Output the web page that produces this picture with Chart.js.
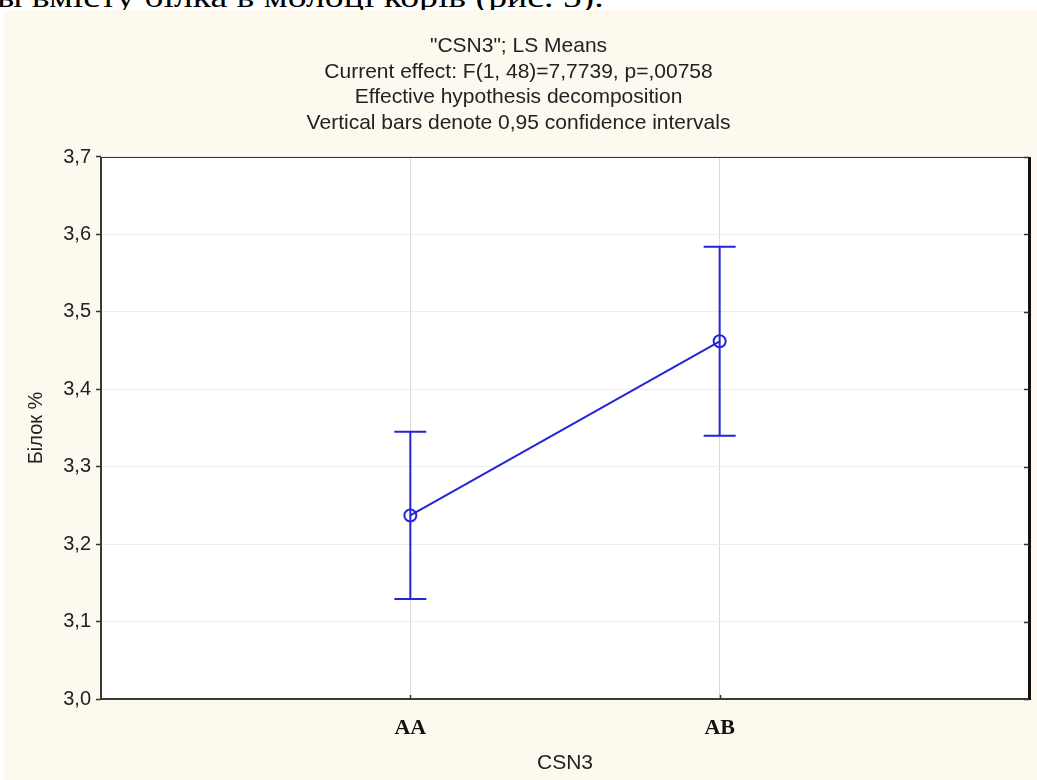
<!DOCTYPE html>
<html><head><meta charset="utf-8">
<script src="https://cdn.jsdelivr.net/npm/chart.js@4"></script>
<style>
html,body{margin:0;padding:0;background:#fff;width:1037px;height:780px;overflow:hidden;position:relative}
#cap{position:absolute;left:-3px;top:-17px;font-family:"Liberation Serif","Times New Roman",serif;font-size:29px;line-height:29px;color:#000;white-space:nowrap;transform:scaleX(1.3);transform-origin:0 0}
#panel{position:absolute;left:4px;top:10px;width:1033px;height:770px;background:#fdf9ee}
canvas{display:block}
</style></head><body>
<div id="cap">ы вмісту білка в молоці корів (рис. 5).</div>
<div id="panel"><canvas id="c" width="1033" height="770"></canvas></div>
<script>
const categories = ['AA', 'AB'];
const means = [3.237, 3.462];
const lowerCI = [3.129, 3.340];
const upperCI = [3.345, 3.584];
const yTickValues = [3.0, 3.1, 3.2, 3.3, 3.4, 3.5, 3.6, 3.7];
const titleLines = [
  '"CSN3"; LS Means',
  'Current effect: F(1, 48)=7,7739, p=,00758',
  'Effective hypothesis decomposition',
  'Vertical bars denote 0,95 confidence intervals'
];
const xTitle = 'CSN3';
const yTitle = 'Білок %';

const BLUE = '#2424d8';
const SANS = '"Liberation Sans", Arial, sans-serif';

const plotBg = {
  id: 'plotBg',
  beforeDraw(chart) {
    const {ctx, chartArea: a} = chart;
    ctx.save();
    ctx.fillStyle = '#ffffff';
    ctx.fillRect(a.left, a.top, a.right - a.left, a.bottom - a.top);
    ctx.restore();
  }
};

const errorBars = {
  id: 'errorBars',
  afterDatasetsDraw(chart) {
    const {ctx, scales: {x, y}} = chart;
    ctx.save();
    ctx.strokeStyle = BLUE;
    ctx.lineWidth = 2;
    categories.forEach((c, i) => {
      const px = x.getPixelForValue(i + 1);
      const top = y.getPixelForValue(upperCI[i]);
      const bot = y.getPixelForValue(lowerCI[i]);
      ctx.beginPath();
      ctx.moveTo(px, top); ctx.lineTo(px, bot);
      ctx.moveTo(px - 16, top); ctx.lineTo(px + 16, top);
      ctx.moveTo(px - 16, bot); ctx.lineTo(px + 16, bot);
      ctx.stroke();
    });
    ctx.restore();
  }
};

const frame = {
  id: 'frame',
  afterDraw(chart) {
    const {ctx, chartArea: a, scales: {x, y}} = chart;
    ctx.save();
    ctx.strokeStyle = '#3a3a3a';
    ctx.lineWidth = 1;
    ctx.strokeRect(a.left + 0.5, a.top + 0.5, a.right - a.left - 1, a.bottom - a.top - 1);
    ctx.lineWidth = 2;
    ctx.beginPath();
    ctx.moveTo(a.left, a.top); ctx.lineTo(a.left, a.bottom + 1);
    ctx.moveTo(a.left - 1, a.bottom); ctx.lineTo(a.right, a.bottom);
    ctx.stroke();
    ctx.strokeStyle = '#111';
    ctx.lineWidth = 3;
    ctx.beginPath();
    ctx.moveTo(a.right + 0.5, a.top); ctx.lineTo(a.right + 0.5, a.bottom + 1);
    ctx.stroke();
    ctx.lineWidth = 1.5;
    ctx.strokeStyle = '#333';
    ctx.beginPath();
    yTickValues.forEach(v => {
      const py = Math.round(y.getPixelForValue(v)) + 0.5;
      ctx.moveTo(a.right - 5, py); ctx.lineTo(a.right, py);
    });
    categories.forEach((c, i) => {
      const px = Math.round(x.getPixelForValue(i + 1)) + 0.5;
      ctx.moveTo(px, a.bottom - 4); ctx.lineTo(px, a.bottom);
    });
    ctx.stroke();
    ctx.restore();
  }
};

new Chart(document.getElementById('c'), {
  type: 'line',
  data: {
    datasets: [{
      data: means.map((m, i) => ({x: i + 1, y: m})),
      borderColor: BLUE,
      borderWidth: 2,
      pointRadius: 6,
      pointBorderWidth: 2,
      pointBorderColor: BLUE,
      pointBackgroundColor: 'rgba(0,0,0,0)',
      tension: 0
    }]
  },
  options: {
    responsive: false,
    devicePixelRatio: 1,
    animation: false,
    events: [],
    layout: {padding: {left: 0, right: 4, top: 0, bottom: 0}},
    plugins: {
      legend: {display: false},
      tooltip: {enabled: false},
      title: {
        display: true,
        text: titleLines,
        color: '#222',
        font: {family: SANS, size: 21, weight: 'normal', lineHeight: 1.219},
        padding: {top: 23.5, bottom: 21.1}
      }
    },
    scales: {
      x: {
        type: 'linear',
        min: 0, max: 3,
        afterBuildTicks: s => { s.ticks = categories.map((c, i) => ({value: i + 1})); },
        afterFit: s => { s.height = 81; },
        ticks: {
          callback: v => categories[v - 1],
          color: '#111',
          font: {family: '"Liberation Serif", "Times New Roman", serif', size: 22, weight: 'bold'},
          padding: 16,
          maxRotation: 0
        },
        grid: {color: '#d9d9d9', drawTicks: false, lineWidth: 1},
        border: {display: false},
        title: {display: true, text: xTitle, color: '#222', font: {family: SANS, size: 21}, padding: {top: 4, bottom: 4.5}}
      },
      y: {
        type: 'linear',
        min: 3.0, max: 3.7,
        afterBuildTicks: s => { s.ticks = yTickValues.map(v => ({value: v})); },
        afterFit: s => { s.width = 97; },
        ticks: {
          callback: v => v.toFixed(1).replace('.', ','),
          color: '#222',
          font: {family: SANS, size: 20},
          padding: 5
        },
        grid: {color: '#ececec', lineWidth: 1, drawTicks: true, tickLength: 5, tickColor: '#333', tickWidth: 1.5},
        border: {display: false},
        title: {display: true, text: yTitle, color: '#222', font: {family: SANS, size: 20}, padding: {top: 20, bottom: 0}}
      }
    }
  },
  plugins: [plotBg, errorBars, frame]
});
</script>
</body></html>
